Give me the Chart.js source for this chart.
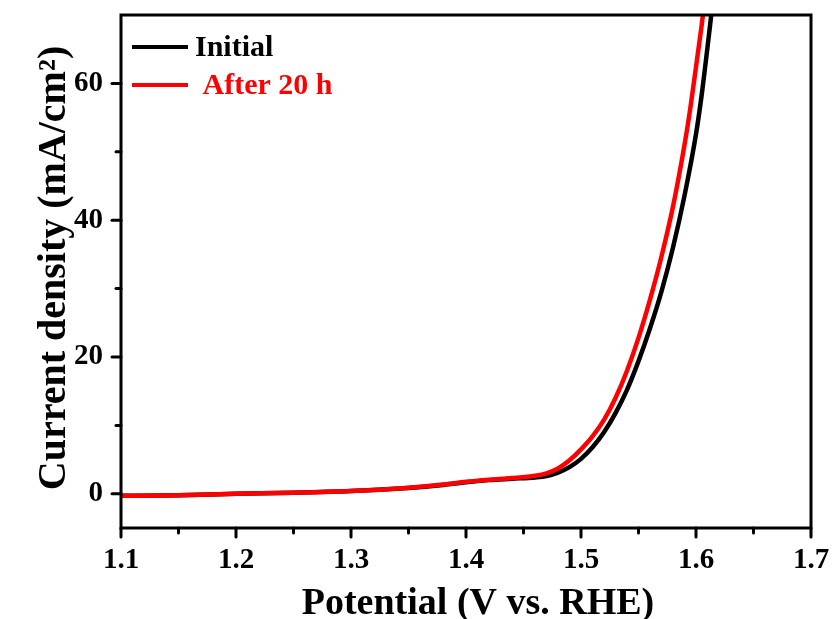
<!DOCTYPE html>
<html>
<head>
<meta charset="utf-8">
<script src="https://cdn.jsdelivr.net/npm/chart.js@4/dist/chart.umd.min.js"></script>
<style>
  html, body { margin: 0; padding: 0; background: #fff; }
  #wrap { width: 832px; height: 619px; }
</style>
</head>
<body>
<div id="wrap"><canvas id="lsv" width="832" height="619"></canvas></div>
<script>
// LSV polarization curves: current density vs. potential
const potentialInitial = [1.10, 1.15, 1.20, 1.25, 1.30, 1.35, 1.38, 1.40, 1.42, 1.44, 1.46, 1.47, 1.48, 1.49, 1.50,
  1.51, 1.52, 1.53, 1.54, 1.55, 1.56, 1.57, 1.58, 1.59, 1.60, 1.605, 1.61, 1.615];
const currentInitial = [-0.3, -0.2, 0.0, 0.15, 0.4, 0.85, 1.3, 1.7, 2.0, 2.2, 2.4, 2.6, 3.1, 3.9, 5.1,
  6.8, 9.0, 11.8, 15.2, 19.4, 24.2, 29.6, 36.0, 43.6, 52.6, 58.4, 65.3, 72.5];

const potentialAfter = [1.10, 1.15, 1.20, 1.25, 1.30, 1.35, 1.38, 1.40, 1.42, 1.44, 1.46, 1.47, 1.48, 1.49, 1.50,
  1.51, 1.52, 1.53, 1.54, 1.55, 1.56, 1.57, 1.58, 1.59, 1.595, 1.60, 1.605, 1.61];
const currentAfter = [-0.3, -0.2, 0.0, 0.15, 0.4, 0.9, 1.35, 1.75, 2.05, 2.3, 2.65, 3.0, 3.7, 4.9, 6.5,
  8.4, 10.8, 14.0, 18.0, 22.8, 28.4, 34.7, 42.0, 51.0, 56.3, 62.4, 68.6, 75.5];

const seriesNames = ['Initial', ' After 20 h'];
const seriesColors = ['#000000', '#ff0000'];

const xMajorTicks = [1.1, 1.2, 1.3, 1.4, 1.5, 1.6, 1.7];
const xMinorTicks = [1.15, 1.25, 1.35, 1.45, 1.55, 1.65];
const yMajorTicks = [0, 20, 40, 60];
const yMinorTicks = [10, 30, 50];

const xTitle = 'Potential (V vs. RHE)';
const yTitle = 'Current density (mA/cm\u00B2)';

const FONT = '"Liberation Serif", "Times New Roman", serif';

function toPoints(xs, ys) {
  return xs.map((x, i) => ({ x: x, y: ys[i] }));
}

// Closed frame, outward major/minor ticks, axis titles and the inset legend
const framePlugin = {
  id: 'frame',
  afterDraw(chart) {
    const { ctx, chartArea: a, scales } = chart;
    const xs = scales.x, ys = scales.y;
    ctx.save();
    ctx.strokeStyle = '#000';
    ctx.lineWidth = 3;
    ctx.lineCap = 'butt';
    ctx.strokeRect(a.left, a.top, a.right - a.left, a.bottom - a.top);

    ctx.lineWidth = 3;
    ctx.lineCap = 'round';
    const tick = (x1, y1, x2, y2) => { ctx.beginPath(); ctx.moveTo(x1, y1); ctx.lineTo(x2, y2); ctx.stroke(); };
    xMajorTicks.forEach(v => { const p = xs.getPixelForValue(v); tick(p, a.bottom, p, a.bottom + 9); });
    xMinorTicks.forEach(v => { const p = xs.getPixelForValue(v); tick(p, a.bottom, p, a.bottom + 5); });
    yMajorTicks.forEach(v => { const p = ys.getPixelForValue(v); tick(a.left, p, a.left - 9, p); });
    yMinorTicks.forEach(v => { const p = ys.getPixelForValue(v); tick(a.left, p, a.left - 5, p); });

    // axis titles
    ctx.fillStyle = '#000';
    ctx.font = 'bold 38px ' + FONT;
    ctx.textAlign = 'center';
    ctx.textBaseline = 'alphabetic';
    ctx.fillText(xTitle, 478, 614);
    ctx.save();
    ctx.translate(65, 268);
    ctx.rotate(-Math.PI / 2);
    ctx.font = 'bold 40px ' + FONT;
    ctx.fillText(yTitle, 0, 0);
    ctx.restore();

    // legend
    const rows = [47, 85];
    ctx.font = 'bold 30px ' + FONT;
    ctx.textAlign = 'left';
    ctx.textBaseline = 'middle';
    chart.data.datasets.forEach((ds, i) => {
      ctx.strokeStyle = ds.borderColor;
      ctx.lineWidth = 4;
      ctx.lineCap = 'butt';
      tick(a.left + 11, rows[i], a.left + 67, rows[i]);
      ctx.fillStyle = ds.borderColor;
      ctx.fillText(ds.label, a.left + 74, rows[i] + 1);
    });
    ctx.restore();
  }
};

new Chart(document.getElementById('lsv'), {
  type: 'line',
  data: {
    datasets: [
      {
        label: seriesNames[0],
        data: toPoints(potentialInitial, currentInitial),
        borderColor: seriesColors[0],
        borderWidth: 4.5,
        pointRadius: 0,
        cubicInterpolationMode: 'monotone',
        clip: 0,
        order: 2
      },
      {
        label: seriesNames[1],
        data: toPoints(potentialAfter, currentAfter),
        borderColor: seriesColors[1],
        borderWidth: 4.5,
        pointRadius: 0,
        cubicInterpolationMode: 'monotone',
        clip: 0,
        order: 1
      }
    ]
  },
  options: {
    responsive: false,
    animation: false,
    devicePixelRatio: 1,
    layout: { padding: { left: 0, top: 15, right: 21, bottom: 0 } },
    plugins: { legend: { display: false }, tooltip: { enabled: false } },
    scales: {
      x: {
        type: 'linear',
        min: 1.1,
        max: 1.7,
        afterFit(s) { s.height = 91; s.paddingLeft = 0; s.paddingRight = 0; },
        afterBuildTicks(s) { s.ticks = xMajorTicks.map(v => ({ value: v })); },
        grid: { display: false, drawTicks: false },
        border: { display: false },
        ticks: {
          padding: 15,
          color: '#000',
          font: { family: FONT, size: 29, weight: 'bold' },
          callback: v => v.toFixed(1)
        }
      },
      y: {
        type: 'linear',
        min: -5,
        max: 70,
        afterFit(s) { s.width = 121; s.paddingTop = 0; s.paddingBottom = 0; },
        afterBuildTicks(s) { s.ticks = yMajorTicks.map(v => ({ value: v })); },
        grid: { display: false, drawTicks: false },
        border: { display: false },
        ticks: {
          padding: 18,
          color: '#000',
          font: { family: FONT, size: 29, weight: 'bold' },
          callback: v => String(v)
        }
      }
    }
  },
  plugins: [framePlugin]
});
</script>
</body>
</html>
